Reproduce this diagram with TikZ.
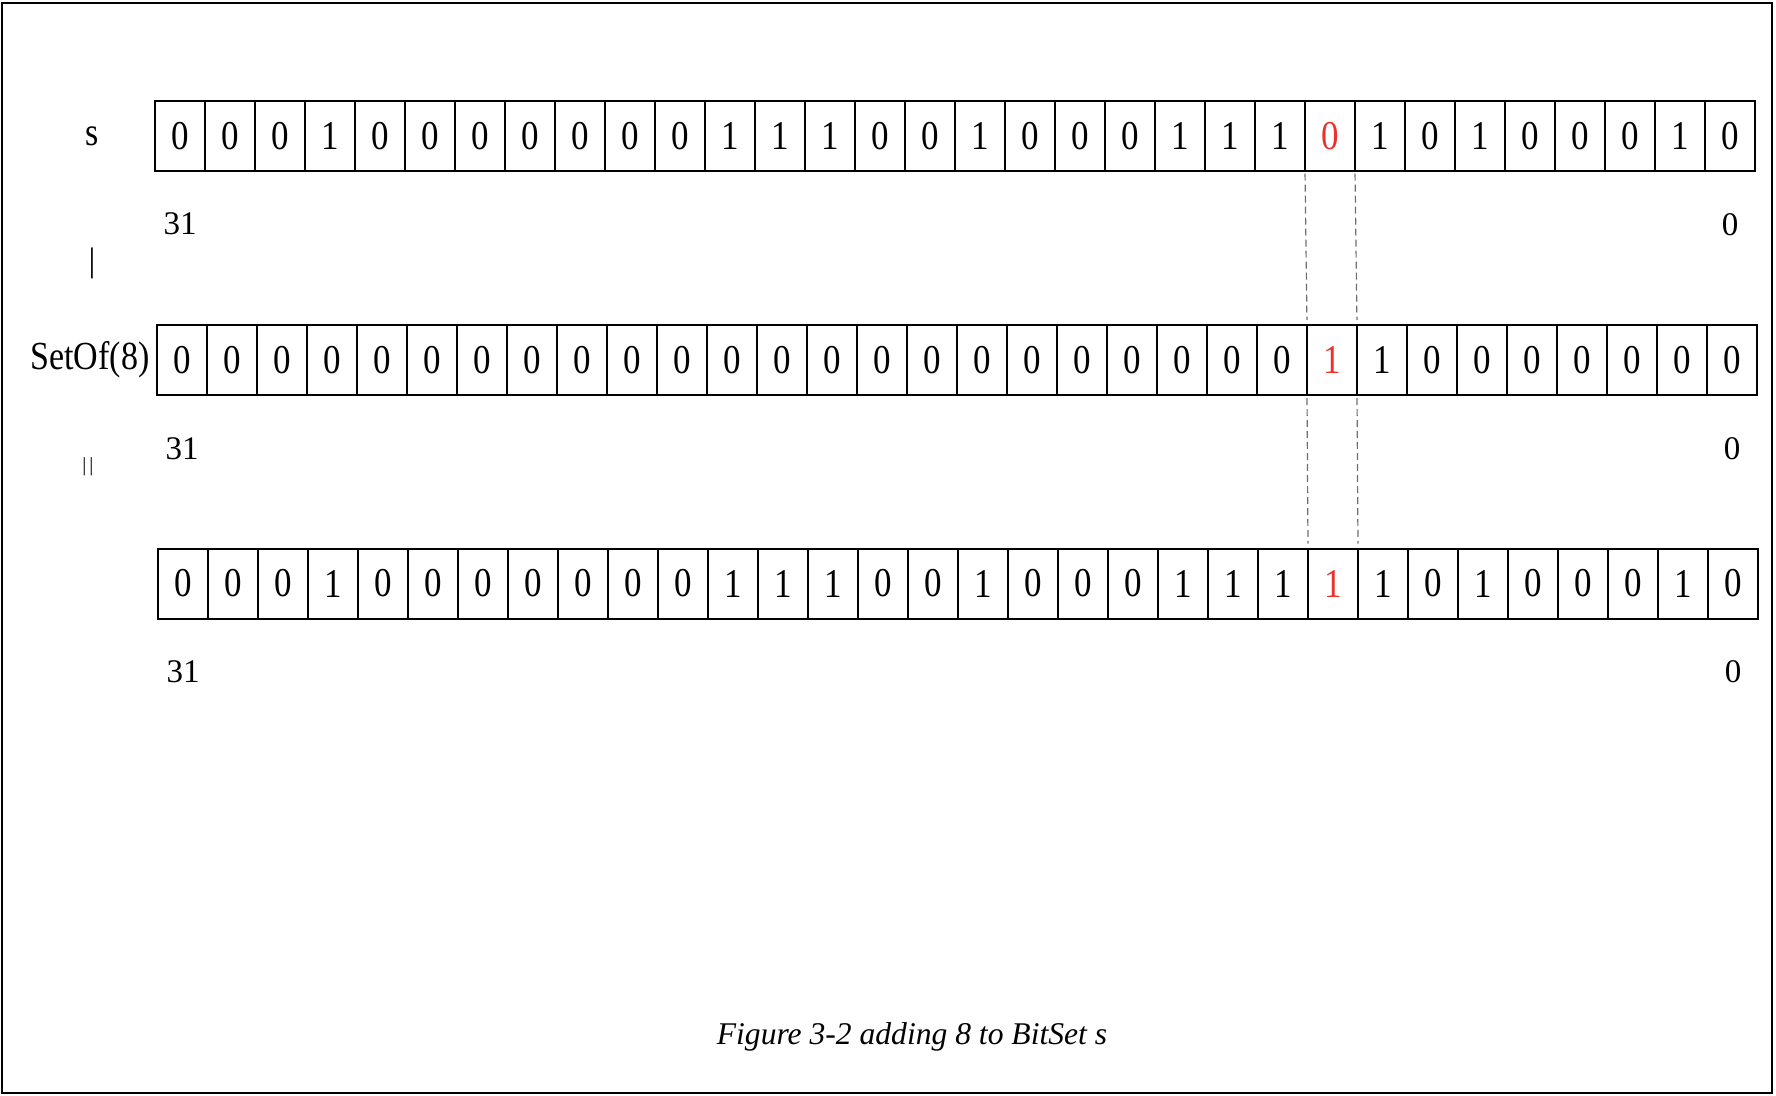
\documentclass[tikz,border=0pt]{standalone}
\usepackage{fontspec}
\setmainfont{Liberation Serif}
\usepackage{graphicx}
\usepackage{tikz}
\usetikzlibrary{positioning}
\definecolor{cHit}{HTML}{E8332A}
\definecolor{cGuide}{HTML}{6E6E6E}
\newcommand{\tallbit}[1]{\scalebox{1}[1.17]{#1}}

\begin{document}
\begin{tikzpicture}[
    x=0.5pt, y=-0.5pt,
    cell/.style={draw, line width=1pt, minimum width=25pt, minimum height=35pt,
                 inner sep=0pt, outer sep=0pt, font=\fontsize{17.5}{17.5}\selectfont},
    side/.style={inner sep=0pt, font=\fontsize{17}{17}\selectfont},
    idx/.style={inner sep=0pt, font=\fontsize{16.5}{16.5}\selectfont},
    guide/.style={draw=cGuide, line width=0.6pt, dash pattern=on 3.5pt off 2pt,
                  shorten <=1.5pt, shorten >=2.5pt},
    capt/.style={inner sep=0pt, font=\fontsize{15.8}{15.8}\selectfont\itshape},
]

% ===================== Marco =====================
\useasboundingbox (0,0) rectangle (1776,1096);
\draw[line width=1pt] (2,3) rectangle (1772,1093);

% ===================== Fila s =====================
\foreach \b [count=\i from 0] in {0,0,0,1,0,0,0,0,0,0,0,1,1,1,0,0,1,0,0,0,1,1,1,0,1,0,1,0,0,0,1,0}{
  \ifnum\i=23 \def\tcol{cHit}\else\def\tcol{black}\fi
  \node[cell, text=\tcol] (s\i) at ({180+50*\i},135.7) {\tallbit{\b}};
}
\node[side] (lblS) at (92,136) {\tallbit{s}};
\node[idx, below=21pt of s0] (sHi) {31};
\node[idx, below=21pt of s31] (sLo) {0};
\node[side] (opOr) at (92,263) {|};

% ===================== Fila SetOf(8) =====================
\foreach \b [count=\i from 0] in {0,0,0,0,0,0,0,0,0,0,0,0,0,0,0,0,0,0,0,0,0,0,0,1,1,0,0,0,0,0,0,0}{
  \ifnum\i=23 \def\tcol{cHit}\else\def\tcol{black}\fi
  \node[cell, text=\tcol] (m\i) at ({182+50*\i},360) {\tallbit{\b}};
}
\node[side] (lblM) at (90,360) {\tallbit{SetOf(8)}};
\node[idx, below=21pt of m0] (mHi) {31};
\node[idx, below=21pt of m31] (mLo) {0};
\node[inner sep=0pt, font=\fontsize{10}{10}\selectfont] (opEq) at (88,467) {|\kern1.5pt|};

% ===================== Fila resultado =====================
\foreach \b [count=\i from 0] in {0,0,0,1,0,0,0,0,0,0,0,1,1,1,0,0,1,0,0,0,1,1,1,1,1,0,1,0,0,0,1,0}{
  \ifnum\i=23 \def\tcol{cHit}\else\def\tcol{black}\fi
  \node[cell, text=\tcol] (t\i) at ({183+50*\i},583.5) {\tallbit{\b}};
}
\node[idx, below=21pt of t0] (tHi) {31};
\node[idx, below=21pt of t31] (tLo) {0};

% ===================== Guias del bit 8 =====================
\draw[guide] (s23.south west) -- (m23.north west);
\draw[guide] (s23.south east) -- (m23.north east);
\draw[guide] (m23.south west) -- (t23.north west);
\draw[guide] (m23.south east) -- (t23.north east);

% ===================== Pie =====================
\node[capt] (caption) at (912,1037) {Figure 3-2 adding 8 to BitSet s};

\end{tikzpicture}
\end{document}
